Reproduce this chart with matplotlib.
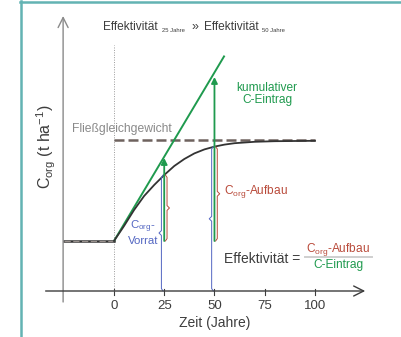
import matplotlib
matplotlib.use('Agg')
import matplotlib.pyplot as plt
from matplotlib.lines import Line2D

plt.rcParams['font.family'] = ['Liberation Sans', 'DejaVu Sans']

# ---------------- data ----------------
curve_years = [-25, 0, 5, 10, 15, 20, 25, 30, 35, 40, 45, 50, 55, 60, 70, 80, 90, 100]
curve_corg = [25, 25, 32.5, 40.5, 47.5, 53, 58, 62.5, 66, 68.8, 70.8, 72.2, 73.2, 73.9, 74.6, 74.9, 75.0, 75.1]

input_years = [0, 55]
input_cum = [25, 117.7]

baseline_years = [-25, 0]
baseline_value = [25, 25]

equilibrium_years = [0, 100]
equilibrium_value = [75.5, 75.5]

marker_years = [25, 50]
marker_input = [66.5, 107.0]
marker_corg = [58, 72.2]
start_value = 25

xticks = [0, 25, 50, 75, 100]
xtick_labels = ['0', '25', '50', '75', '100']

# ---------------- style ----------------
GREEN = '#1f9a4e'
RED = '#b94a3a'
BLUE = '#5366c2'
DARK = '#3d3d3d'
GRAY_TXT = '#8a8a8a'
DASH = '#6e625e'
TEAL = '#63b3b3'

fig = plt.figure(figsize=(4.02, 3.37), dpi=100)
ax = fig.add_axes([0, 0, 1, 1])
ax.set_xlim(-56.7, 143.3)
ax.set_ylim(-23, 145.5)
ax.axis('off')

# frame (teal)
fig.add_artist(Line2D([21 / 402, 21 / 402], [0, 1 - 1 / 337], transform=fig.transFigure, color=TEAL, lw=1.8))
fig.add_artist(Line2D([20 / 402, 1], [1 - 2 / 337, 1 - 2 / 337], transform=fig.transFigure, color=TEAL, lw=1.8))

# axes
ax.annotate('', xy=(-25.3, 137.5), xytext=(-25.3, -5.5),
            arrowprops=dict(arrowstyle='->', color='#8a8a8a', lw=1.0, mutation_scale=18, shrinkA=0, shrinkB=0))
ax.annotate('', xy=(125, 0), xytext=(-34, 0),
            arrowprops=dict(arrowstyle='->', color=DARK, lw=1.0, mutation_scale=18, shrinkA=0, shrinkB=0))
for t, lab in zip(xticks, xtick_labels):
    ax.plot([t, t], [-1.8, 1.2], color=DARK, lw=0.8)
    ax.text(t, -7.5, lab, ha='center', va='center', fontsize=9.5, color=DARK)
ax.text(50, -16, 'Zeit (Jahre)', ha='center', va='center', fontsize=10, color=DARK)
ax.text(-33.5, 72, r'C$_{\mathregular{org}}$ (t ha$^{\mathregular{-1}}$)', rotation=90,
        ha='center', va='center', fontsize=11.5, color=DARK)

# dotted line at t = 0
ax.plot([0, 0], [0, 123], color='#9a9a9a', lw=0.7, ls=(0, (1, 1.5)))

# equilibrium & baseline
ax.plot(equilibrium_years, equilibrium_value, color=DASH, lw=1.8, dashes=(4, 1.6))
ax.plot(baseline_years, baseline_value, color='#333333', lw=1.8)
ax.plot(baseline_years, baseline_value, color='#9a928e', lw=0.9, dashes=(5, 2))

# curves
ax.plot(input_years, input_cum, color=GREEN, lw=1.4, solid_capstyle='butt')
ax.plot(curve_years[1:], curve_corg[1:], color='#333333', lw=1.3)


def brace(x, y0, y1, d, color, w=1.2):
    ym = (y0 + y1) / 2
    s = 1.2
    xs = [x - d * w * 0.7, x, x, x + d * w, x, x, x - d * w * 0.7]
    ys = [y0, y0 + s, ym - s, ym, ym + s, y1 - s, y1]
    ax.plot(xs, ys, color=color, lw=0.7)


for t, top, corg in zip(marker_years, marker_input, marker_corg):
    ax.annotate('', xy=(t, top), xytext=(t, start_value),
                arrowprops=dict(arrowstyle='-|>', color=GREEN, lw=1.3, mutation_scale=9,
                                shrinkA=0, shrinkB=0))
    brace(t + 1.4, start_value, corg, 1, RED)
    brace(t - 1.4, 0, corg, -1, BLUE)

# texts
ax.text(-5.5, 132, 'Effektivität', ha='left', va='center', fontsize=8.6, color=DARK)
ax.text(24.0, 130.2, '25 Jahre', ha='left', va='center', fontsize=4.2, color=DARK)
ax.text(38.4, 132, '»', ha='left', va='center', fontsize=9, color=DARK)
ax.text(44.6, 132, 'Effektivität', ha='left', va='center', fontsize=8.6, color=DARK)
ax.text(73.8, 130.2, '50 Jahre', ha='left', va='center', fontsize=4.2, color=DARK)

ax.text(76.2, 98.5, 'kumulativer\nC-Eintrag', ha='center', va='center', fontsize=8.6,
        color=GREEN, linespacing=1.1)
ax.text(-20.8, 81, 'Fließgleichgewicht', ha='left', va='center', fontsize=8.7, color=GRAY_TXT)
ax.text(54.5, 49.5, r'C$_{\mathregular{org}}$-Aufbau', ha='left', va='center', fontsize=8.6, color=RED)
ax.text(14.2, 32, r'C$_{\mathregular{org}}$-', ha='center', va='center', fontsize=8.2, color=BLUE)
ax.text(14.6, 25, 'Vorrat', ha='center', va='center', fontsize=8.2, color=BLUE)

ax.text(54.5, 16, 'Effektivität =', ha='left', va='center', fontsize=10, color=DARK)
ax.text(111.5, 20.8, r'C$_{\mathregular{org}}$-Aufbau', ha='center', va='center', fontsize=8.6, color=RED)
ax.plot([95, 128.4], [17, 17], color='#cfcfcf', lw=1.4)
ax.text(111.5, 12.8, 'C-Eintrag', ha='center', va='center', fontsize=8.6, color=GREEN)

fig.savefig('out.png', dpi=100)
